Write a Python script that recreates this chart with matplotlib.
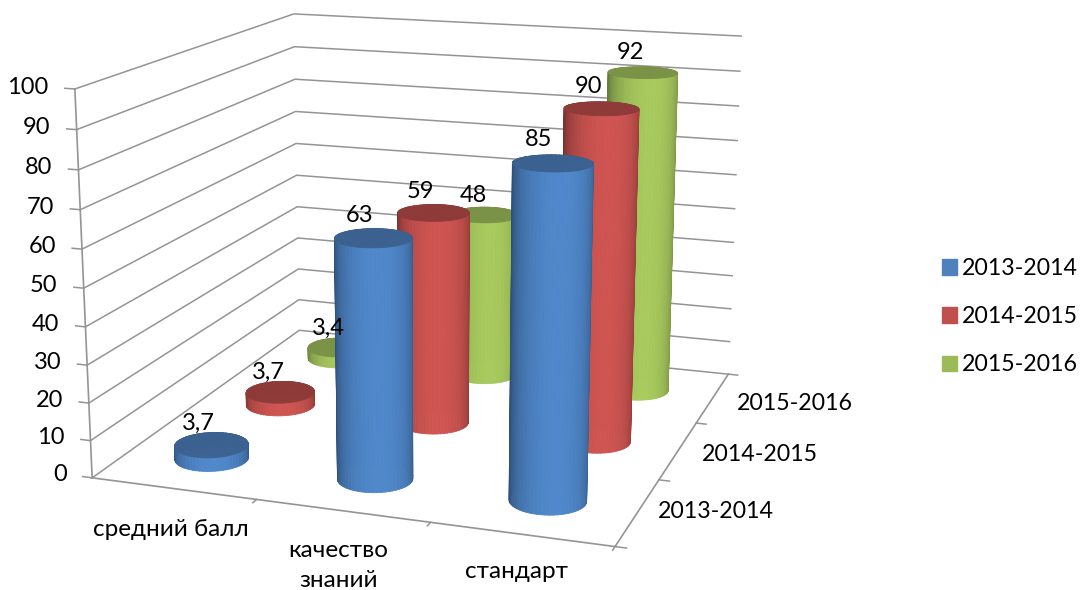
import numpy as np
import matplotlib
matplotlib.use("Agg")
import matplotlib.pyplot as plt
from matplotlib.patches import Patch

plt.rcParams['font.family'] = ['Lato', 'Noto Sans', 'DejaVu Sans']

categories = ["средний балл", "качество\nзнаний", "стандарт"]
years = ["2013-2014", "2014-2015", "2015-2016"]
values_2013 = [3.7, 63, 85]
values_2014 = [3.7, 59, 90]
values_2015 = [3.4, 48, 92]
labels_2013 = ["3,7", "63", "85"]
labels_2014 = ["3,7", "59", "90"]
labels_2015 = ["3,4", "48", "92"]
z_ticks = [0, 10, 20, 30, 40, 50, 60, 70, 80, 90, 100]

series = [values_2013, values_2014, values_2015]
series_labels = [labels_2013, labels_2014, labels_2015]
# side centre, side edge, top
colors = [("#5088cb", "#2f5078", "#3c6292"),
          ("#cf5552", "#7a3230", "#8e3b39"),
          ("#a8ca5e", "#667c3a", "#7b9347")]
legend_colors = ["#4f81bd", "#c0504d", "#9bbb59"]
grid_col = "#949494"

# подписи осей: положение в координатах пола
cat_pos = [(0.746, -0.536), (1.748, -0.684), (2.613, -0.467)]
year_pos = [(3.39, 0.646), (3.457, 1.587), (3.5, 2.552)]

ELEV, AZIM = 14.5, -71
R = 0.21
W, H = 1081, 590
SIDE = 630
CX, CY = 425, 254  # centre of the 3d box in pixels, y from top

fig = plt.figure(figsize=(W / 100, H / 100), dpi=100)
ax = fig.add_axes([(CX - SIDE / 2) / W, 1 - (CY + SIDE / 2) / H, SIDE / W, SIDE / H],
                  projection="3d", computed_zorder=False)
ax.set_proj_type("persp", focal_length=0.6)
ax.view_init(elev=ELEV, azim=AZIM)
ax.set_xlim(0, 3)
ax.set_ylim(0, 3)
ax.set_zlim(0, 100)
ax.set_box_aspect((3, 3, 2.2), zoom=1.25)
ax.set_xticks([])
ax.set_yticks([])
ax.set_zticks([])
ax.set_axis_off()


def line(xs, ys, zs, lw=1.1):
    ax.plot(xs, ys, zs, color=grid_col, lw=lw, zorder=1, clip_on=False)


def cylinder(cx, cy, h, cols, z):
    t = np.linspace(0, 2 * np.pi, 61)
    X = np.outer(np.ones(2), cx + R * np.cos(t))
    Y = np.outer(np.ones(2), cy + R * np.sin(t))
    Z = np.array([[0.0] * 61, [h] * 61])
    mid = t[:-1] + np.diff(t) / 2
    # самая светлая полоса чуть правее середины
    light = np.clip(np.cos(mid - np.radians(AZIM + 8)), 0, 1) ** 0.9
    c0 = np.array(matplotlib.colors.to_rgb(cols[1]))
    c1 = np.array(matplotlib.colors.to_rgb(cols[0]))
    fc = c0 + light[:, None] * (c1 - c0)
    fc = np.concatenate([fc, np.ones((60, 1))], axis=1)
    s = ax.plot_surface(X, Y, Z, facecolors=fc[None, :, :], shade=False, rstride=1, cstride=1,
                        linewidth=0.6, antialiased=True, zorder=z, clip_on=False)
    s.set_edgecolor(fc)
    rr = np.array([0, R])
    Xt = cx + np.outer(rr, np.cos(t))
    Yt = cy + np.outer(rr, np.sin(t))
    Zt = np.full_like(Xt, h)
    top = ax.plot_surface(Xt, Yt, Zt, color=cols[2], shade=False, rstride=1, cstride=1,
                          linewidth=0.6, antialiased=True, zorder=z + 0.01, clip_on=False)
    top.set_edgecolor(cols[2])


# стенки и сетка
for v in z_ticks:
    line([0, 0, 3], [0, 3, 3], [v, v, v])
    line([0, -0.06], [0, 0], [v, v])
    ax.text(-0.16, 0, v, str(v), ha="right", va="center", fontsize=17, zorder=100)
line([0, 0], [0, 0], [0, 100], 1.2)
line([0, 3, 3], [0, 0, 3], [0, 0, 0], 1.2)
for i in range(1, 4):
    line([i, i], [0, -0.05], [0, 0])
for j in range(0, 4):
    line([3, 3.06], [j, j], [0, 0])

# цилиндры
for j, vals in enumerate(series):
    for i, v in enumerate(vals):
        cx, cy = i + 0.5, j + 0.5
        depth = (cx * np.cos(np.radians(AZIM)) + cy * np.sin(np.radians(AZIM)))
        cylinder(cx, cy, v, colors[j], 10 + depth)
        ax.text(cx - 0.08, cy, v + 5.5, series_labels[j][i], ha="center", va="center",
                fontsize=17, zorder=100)

for (px, py), c in zip(cat_pos, categories):
    ax.text(px, py, 0, c, ha="center", va="center", fontsize=17.5, zorder=100,
            linespacing=1.5)
for (px, py), y in zip(year_pos, years):
    ax.text(px, py, 0, y, ha="center", va="center", fontsize=16.7, zorder=100)

handles = [Patch(color=c) for c in legend_colors]
fig.legend(handles, years, loc="center left", bbox_to_anchor=(0.852, 0.463), frameon=False,
           fontsize=16.7, handlelength=0.65, handleheight=0.65, handletextpad=0.2,
           labelspacing=1.17)

fig.savefig("out.png", dpi=100)
